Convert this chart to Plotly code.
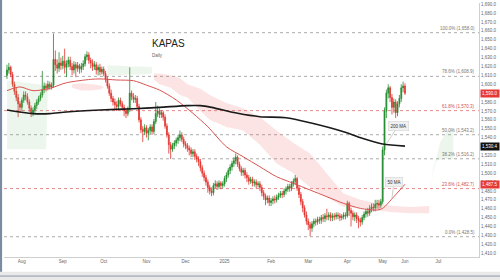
import plotly.graph_objects as go

# ---------------- data ----------------
opens = [1610, 1616, 1619, 1611, 1600, 1592, 1585, 1578, 1574, 1582,
         1588, 1586, 1580, 1573, 1567, 1571, 1576, 1580, 1584, 1588,
         1594, 1598, 1596, 1600, 1597, 1599, 1628, 1622, 1618, 1624,
         1621, 1626, 1619, 1623, 1627, 1620, 1616, 1622, 1618, 1621,
         1617, 1620, 1623, 1631, 1633, 1627, 1624, 1620, 1622, 1616,
         1619, 1614, 1617, 1612, 1606, 1598, 1590, 1584, 1580, 1577,
         1575, 1582, 1578, 1574, 1570, 1567, 1572, 1590, 1586, 1583,
         1584, 1575, 1560, 1549, 1547, 1551, 1545, 1548, 1552, 1547,
         1558, 1567, 1570, 1566, 1568, 1563, 1553, 1543, 1532, 1527,
         1531, 1534, 1537, 1540, 1543, 1538, 1533, 1531, 1528, 1526,
         1522, 1524, 1519, 1516, 1513, 1506, 1500, 1495, 1490, 1484,
         1480, 1478, 1486, 1488, 1485, 1489, 1486, 1488, 1494, 1498,
         1503, 1507, 1511, 1514, 1518, 1510, 1505, 1501, 1503, 1498,
         1495, 1491, 1493, 1489, 1490, 1487, 1488, 1484, 1478, 1474,
         1470, 1472, 1467, 1469, 1471, 1470, 1473, 1475, 1477, 1476,
         1480, 1482, 1485, 1483, 1488, 1491, 1494, 1483, 1476, 1468,
         1461, 1453, 1446, 1442, 1438, 1443, 1446, 1445, 1448, 1447,
         1450, 1449, 1452, 1451, 1453, 1450, 1452, 1451, 1453, 1452,
         1450, 1451, 1453, 1452, 1466, 1458, 1455, 1451, 1453, 1449,
         1447, 1445, 1450, 1454, 1457, 1455, 1460, 1462, 1461, 1465,
         1466, 1464, 1468, 1526, 1570, 1590, 1596, 1585, 1574, 1580,
         1568, 1578, 1584, 1596, 1598]
highs = [1622, 1624, 1621, 1614, 1603, 1596, 1589, 1581, 1585, 1592,
         1592, 1590, 1583, 1576, 1574, 1579, 1583, 1587, 1591, 1615,
         1602, 1601, 1604, 1603, 1602, 1657, 1638, 1628, 1636, 1630,
         1632, 1640, 1627, 1631, 1631, 1624, 1626, 1625, 1625, 1623,
         1624, 1627, 1634, 1637, 1636, 1630, 1628, 1626, 1625, 1622,
         1623, 1620, 1620, 1615, 1609, 1601, 1594, 1587, 1584, 1581,
         1585, 1585, 1581, 1577, 1573, 1575, 1619, 1593, 1590, 1588,
         1587, 1578, 1563, 1553, 1555, 1554, 1551, 1555, 1555, 1561,
         1580, 1576, 1573, 1571, 1570, 1566, 1556, 1546, 1535, 1534,
         1537, 1540, 1543, 1548, 1546, 1541, 1536, 1534, 1531, 1529,
         1527, 1527, 1522, 1519, 1516, 1509, 1503, 1498, 1493, 1487,
         1484, 1489, 1492, 1491, 1492, 1491, 1491, 1497, 1501, 1506,
         1510, 1514, 1518, 1522, 1520, 1513, 1508, 1506, 1506, 1501,
         1498, 1496, 1496, 1493, 1493, 1491, 1491, 1487, 1481, 1477,
         1475, 1475, 1472, 1474, 1475, 1476, 1478, 1480, 1480, 1483,
         1485, 1488, 1488, 1491, 1494, 1498, 1496, 1486, 1479, 1471,
         1464, 1457, 1449, 1445, 1446, 1449, 1449, 1451, 1451, 1453,
         1454, 1455, 1460, 1456, 1456, 1455, 1455, 1456, 1456, 1455,
         1454, 1456, 1456, 1469, 1468, 1461, 1458, 1456, 1456, 1452,
         1450, 1453, 1457, 1460, 1461, 1464, 1466, 1466, 1470, 1470,
         1470, 1471, 1530, 1574, 1594, 1600, 1598, 1589, 1584, 1583,
         1581, 1588, 1600, 1603, 1601]
lows = [1606, 1612, 1608, 1597, 1588, 1581, 1563, 1568, 1570, 1579,
        1582, 1577, 1569, 1563, 1564, 1568, 1572, 1577, 1581, 1585,
        1590, 1592, 1593, 1594, 1594, 1596, 1615, 1612, 1614, 1616,
        1617, 1612, 1608, 1619, 1616, 1610, 1612, 1608, 1614, 1612,
        1613, 1616, 1620, 1627, 1623, 1618, 1615, 1616, 1611, 1610,
        1610, 1611, 1609, 1602, 1595, 1587, 1580, 1576, 1572, 1570,
        1571, 1575, 1570, 1564, 1562, 1564, 1569, 1582, 1579, 1579,
        1572, 1557, 1545, 1535, 1543, 1540, 1537, 1544, 1543, 1544,
        1555, 1563, 1562, 1562, 1559, 1550, 1540, 1522, 1516, 1524,
        1527, 1530, 1533, 1536, 1535, 1529, 1527, 1524, 1520, 1518,
        1518, 1515, 1512, 1508, 1502, 1496, 1491, 1486, 1478, 1476,
        1474, 1475, 1483, 1481, 1482, 1482, 1483, 1485, 1490, 1495,
        1499, 1503, 1507, 1510, 1507, 1502, 1497, 1497, 1494, 1490,
        1487, 1488, 1485, 1485, 1483, 1484, 1480, 1474, 1470, 1464,
        1466, 1463, 1463, 1465, 1466, 1467, 1470, 1472, 1472, 1473,
        1476, 1479, 1479, 1480, 1485, 1487, 1480, 1472, 1464, 1456,
        1450, 1442, 1436, 1429, 1434, 1439, 1441, 1442, 1443, 1443,
        1445, 1445, 1447, 1447, 1446, 1446, 1447, 1448, 1448, 1446,
        1447, 1448, 1448, 1450, 1452, 1440, 1447, 1446, 1444, 1438,
        1440, 1442, 1447, 1450, 1451, 1452, 1456, 1457, 1457, 1460,
        1460, 1461, 1465, 1520, 1562, 1584, 1580, 1566, 1568, 1562,
        1564, 1574, 1580, 1591, 1588]
closes = [1616, 1619, 1611, 1600, 1592, 1585, 1578, 1574, 1582, 1588,
          1586, 1580, 1573, 1567, 1571, 1576, 1580, 1584, 1588, 1594,
          1598, 1596, 1600, 1597, 1599, 1628, 1622, 1618, 1624, 1621,
          1626, 1619, 1623, 1627, 1620, 1616, 1622, 1618, 1621, 1617,
          1620, 1623, 1631, 1633, 1627, 1624, 1620, 1622, 1616, 1619,
          1614, 1617, 1612, 1606, 1598, 1590, 1584, 1580, 1577, 1575,
          1582, 1578, 1574, 1570, 1567, 1572, 1590, 1586, 1583, 1584,
          1575, 1560, 1549, 1547, 1551, 1545, 1548, 1552, 1547, 1558,
          1567, 1570, 1566, 1568, 1563, 1553, 1543, 1532, 1527, 1531,
          1534, 1537, 1540, 1543, 1538, 1533, 1531, 1528, 1526, 1522,
          1524, 1519, 1516, 1513, 1506, 1500, 1495, 1490, 1484, 1480,
          1478, 1486, 1488, 1485, 1489, 1486, 1488, 1494, 1498, 1503,
          1507, 1511, 1514, 1518, 1510, 1505, 1501, 1503, 1498, 1495,
          1491, 1493, 1489, 1490, 1487, 1488, 1484, 1478, 1474, 1470,
          1472, 1467, 1469, 1471, 1470, 1473, 1475, 1477, 1476, 1480,
          1482, 1485, 1483, 1488, 1491, 1494, 1483, 1476, 1468, 1461,
          1453, 1446, 1442, 1438, 1443, 1446, 1445, 1448, 1447, 1450,
          1449, 1452, 1451, 1453, 1450, 1452, 1451, 1453, 1452, 1450,
          1451, 1453, 1452, 1466, 1458, 1455, 1451, 1453, 1449, 1447,
          1445, 1450, 1454, 1457, 1455, 1460, 1462, 1461, 1465, 1466,
          1464, 1468, 1526, 1570, 1590, 1596, 1585, 1574, 1580, 1568,
          1578, 1584, 1596, 1598, 1590]
bar_idx = list(range(len(closes)))

# month tick labels (positions in bar index units)
tick_idx = [8, 30, 52, 75, 96, 117, 142, 162, 183, 202, 214, 232]
tick_text = ["Aug", "Sep", "Oct", "Nov", "Dec", "2025", "Feb", "Mar", "Apr", "May", "Jun", "Jul"]

# moving averages
ma200_idx = [0, 14, 23, 32, 50, 68, 82, 97, 104, 110, 124, 136, 150, 163, 181, 191, 202, 214]
ma200_val = [1571, 1567, 1567, 1568.8, 1571, 1572.5, 1574, 1576, 1576, 1574,
             1567.3, 1563.5, 1562.4, 1556.7, 1546.6, 1539.2, 1532.8, 1530.4]
ma50_idx = [0, 7, 14, 23, 32, 45, 50, 59, 68, 75, 82, 91, 100, 108, 118, 127, 136,
            145, 154, 163, 172, 181, 190, 199, 202, 208, 214]
ma50_val = [1592.8, 1597, 1592.8, 1595.4, 1601.7, 1605.5, 1606, 1604.8, 1604, 1599,
            1593.5, 1582.3, 1567.3, 1552.2, 1529.7, 1518.5, 1507.2, 1496, 1488.6, 1481,
            1473.5, 1466, 1460.4, 1458.5, 1460.4, 1473.5, 1487.5]

# Ichimoku cloud segments (upper / lower spans)
green1_idx = [0, 6, 12, 18, 21, 22]
green1_up = [1604, 1603, 1601, 1600, 1599, 1598]
green1_lo = [1527, 1527, 1527, 1527, 1527, 1597]
pink1_idx = [35, 40, 45, 50, 52]
pink1_up = [1600, 1601, 1600, 1599, 1597]
pink1_lo = [1596, 1593, 1593, 1594, 1596]
green2_idx = [54, 60, 66, 72, 78]
green2_up = [1621, 1621, 1620, 1620, 1619]
green2_lo = [1610, 1610, 1611, 1611, 1612]
pink2_idx = [79, 82, 88, 93, 97, 104, 109, 118, 127, 136, 145, 154, 163, 172, 181,
             190, 199, 208, 217, 227]
pink2_up = [1612, 1612, 1610, 1607, 1600, 1595, 1588, 1579, 1573, 1563, 1548, 1534,
            1522, 1500, 1477, 1470, 1466, 1463, 1462, 1463]
pink2_lo = [1605, 1600, 1596, 1588, 1585, 1570, 1560, 1552, 1548, 1532, 1511, 1500,
            1484, 1473, 1462, 1461, 1458, 1456, 1455, 1455]
green3_idx = [228, 229, 231, 233, 236, 240]
green3_up = [1482, 1504, 1518, 1535, 1545, 1551]
green3_lo = [1479, 1501, 1514, 1515, 1516, 1516]

# Fibonacci retracement
fib_high = 1658.0
fib_low = 1428.5
fib_pcts = [100.0, 78.6, 61.8, 50.0, 38.2, 23.6, 0.0]
fib_red = [False, False, True, False, False, True, False]

# ---------------- figure ----------------
fig = go.Figure()

GREEN_FILL = "rgba(110,185,110,0.13)"
PINK_FILL = "rgba(240,90,90,0.16)"
for ix, up, lo, col in [(green1_idx, green1_up, green1_lo, GREEN_FILL),
                        (pink1_idx, pink1_up, pink1_lo, PINK_FILL),
                        (green2_idx, green2_up, green2_lo, GREEN_FILL),
                        (pink2_idx, pink2_up, pink2_lo, PINK_FILL),
                        (green3_idx, green3_up, green3_lo, GREEN_FILL)]:
    fig.add_trace(go.Scatter(x=ix + ix[::-1], y=up + lo[::-1], fill="toself",
                             fillcolor=col, line=dict(width=0), mode="lines",
                             hoverinfo="skip"))

fig.add_trace(go.Candlestick(
    x=bar_idx, open=opens, high=highs, low=lows, close=closes,
    increasing=dict(line=dict(color="#1f8a2c", width=0.8), fillcolor="#1f8a2c"),
    decreasing=dict(line=dict(color="#e3342f", width=0.8), fillcolor="#e3342f"),
    whiskerwidth=0, hoverinfo="skip"))

fig.add_trace(go.Scatter(x=ma50_idx, y=ma50_val, mode="lines",
                         line=dict(color="#d9534f", width=1, shape="spline", smoothing=0.8)))
fig.add_trace(go.Scatter(x=ma200_idx, y=ma200_val, mode="lines",
                         line=dict(color="#1a1a1a", width=1.6, shape="spline", smoothing=0.8)))

shapes = []
annotations = []
for pct, red in zip(fib_pcts, fib_red):
    lvl = fib_low + pct / 100.0 * (fib_high - fib_low)
    col = "#e58a8a" if red else "#ababab"
    shapes.append(dict(type="line", xref="paper", x0=0, x1=1, yref="y", y0=lvl, y1=lvl,
                       line=dict(color=col, width=1, dash="dot"), layer="below"))
    annotations.append(dict(xref="paper", x=1, xanchor="right", xshift=-2, yref="y", y=lvl,
                            yanchor="bottom", text=f"{pct:.1f}% ({lvl:,.1f})", showarrow=False,
                            font=dict(size=4.5, color="#d05050" if red else "#777")))

# axis price tags
for val, bg in [(closes[-1], "#e53935"), (ma200_val[-1], "#111111"), (ma50_val[-1], "#e53935")]:
    annotations.append(dict(xref="paper", x=1, xanchor="left", xshift=1, yref="y", y=val,
                            text=f"{val:,.1f}", showarrow=False, bgcolor=bg, borderpad=1,
                            font=dict(size=4.5, color="white")))

# MA callouts
annotations.append(dict(x=204, y=1533, text="200 MA", showarrow=True, arrowhead=0,
                        arrowcolor="#cfcfcf", arrowwidth=1, ax=12, ay=-18,
                        bgcolor="#f0f0f0", bordercolor="#d0d0d0", borderwidth=0.5, borderpad=2,
                        font=dict(size=4.5, color="#333")))
annotations.append(dict(x=207, y=1472, text="50 MA", showarrow=True, arrowhead=0,
                        arrowcolor="#cfcfcf", arrowwidth=1, ax=2, ay=-16,
                        bgcolor="#f0f0f0", bordercolor="#d0d0d0", borderwidth=0.5, borderpad=2,
                        font=dict(size=4.5, color="#333")))

# title
annotations.append(dict(xref="paper", yref="paper", x=0.307, y=0.84, xanchor="left",
                        yanchor="middle", text="KAPAS", showarrow=False,
                        font=dict(size=10, color="#222")))
annotations.append(dict(xref="paper", yref="paper", x=0.307, y=0.795, xanchor="left",
                        yanchor="middle", text="Daily", showarrow=False,
                        font=dict(size=4.5, color="#666")))

# frame decorations
shapes.append(dict(type="rect", xref="paper", yref="paper", x0=-0.0085, x1=-0.004, y0=-0.09,
                   y1=1.012, fillcolor="#7a8ba3", line=dict(width=0), layer="above"))
shapes.append(dict(type="rect", xref="paper", yref="paper", x0=-0.0085, x1=1.045, y0=-0.092,
                   y1=-0.058, fillcolor="#e9e9e9", line=dict(width=0)))
shapes.append(dict(type="line", xref="paper", yref="paper", x0=-0.0085, x1=1.045, y0=-0.075,
                   y1=-0.075, line=dict(color="#8c98a8", width=1)))

fig.update_layout(
    width=500, height=280,
    margin=dict(l=4, r=21, t=3, b=23),
    paper_bgcolor="white", plot_bgcolor="white",
    showlegend=False,
    font=dict(family="Liberation Sans, Arial, sans-serif"),
    xaxis=dict(range=[-1.6, 253.8], tickvals=tick_idx, ticktext=tick_text,
               showgrid=False, zeroline=False, showline=True, linecolor="#cfcfcf",
               linewidth=1, ticks="", tickfont=dict(size=4.5, color="#666"),
               rangeslider=dict(visible=False)),
    yaxis=dict(side="right", range=[1405.7, 1691.4], tick0=1410, dtick=10,
               tickformat=",.1f", showgrid=False, zeroline=False, showline=True,
               linecolor="#cfcfcf", linewidth=1, ticks="",
               tickfont=dict(size=4.5, color="#666")),
    shapes=shapes, annotations=annotations,
)

fig.write_html("out.html")
